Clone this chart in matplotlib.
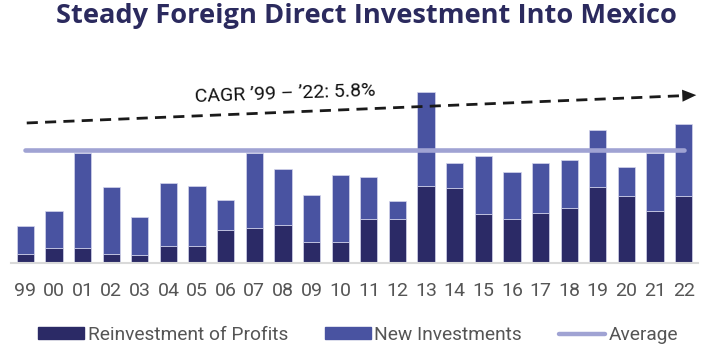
import matplotlib.pyplot as plt
from matplotlib.lines import Line2D
from matplotlib.patches import Patch

years = ['99', '00', '01', '02', '03', '04', '05', '06', '07', '08', '09', '10',
         '11', '12', '13', '14', '15', '16', '17', '18', '19', '20', '21', '22']
# billions USD
reinvestment = [2.5, 4.2, 4.2, 2.5, 2.2, 4.8, 4.8, 9.2, 9.8, 10.6, 5.9, 5.9,
                12.3, 12.3, 21.6, 21.0, 13.7, 12.3, 14.0, 15.4, 21.3, 18.8, 14.6, 18.8]
new_invest = [7.8, 10.4, 26.6, 18.8, 10.6, 17.6, 16.8, 8.4, 21.0, 15.7, 13.2, 18.8,
              11.8, 5.0, 26.3, 7.0, 16.2, 13.2, 14.0, 13.4, 16.0, 8.1, 16.2, 20.2]
average = 31.5
cagr_label = 'CAGR \u201999 \u2013 \u201922: 5.8%'
trend_start = (0.05, 39.2)
trend_end = (23.44, 47.0)

dark = '#2b2a66'
blue = '#4953a1'
lav = '#a0a3d3'
grey_txt = '#555555'
plt.rcParams['font.family'] = ['Roboto', 'DejaVu Sans']

fig = plt.figure(figsize=(7.1, 3.6), dpi=100)
ax = fig.add_axes([11 / 710, 97 / 360, 687 / 710, 178.6 / 360])

x = list(range(len(years)))
ax.bar(x, reinvestment, width=0.6, color=dark, edgecolor='#d4d5ec', linewidth=0.5, zorder=2)
ax.bar(x, new_invest, width=0.6, bottom=reinvestment, color=blue,
       edgecolor='#d4d5ec', linewidth=0.5, zorder=2)

ax.plot([x[0], x[-1]], [average, average], color=lav, lw=3.3,
        solid_capstyle='round', zorder=4)

# trend arrow
slope = (trend_end[1] - trend_start[1]) / (trend_end[0] - trend_start[0])
ax.plot([trend_start[0], trend_end[0] - 0.45],
        [trend_start[1], trend_end[1] - 0.45 * slope],
        color='#1a1a1a', lw=2, dashes=(4, 2.6), zorder=5, clip_on=False)
ax.annotate('', xy=trend_end, xytext=(trend_end[0] - 0.5, trend_end[1] - 0.5 * slope),
            arrowprops=dict(arrowstyle='-|>,head_length=0.72,head_width=0.31',
                            mutation_scale=14, color='#1a1a1a', lw=0,
                            shrinkA=0, shrinkB=0), annotation_clip=False, zorder=6)
ax.text(9.07, 47.3, cagr_label, fontsize=14, color='#111111', ha='center',
        va='center', rotation=2, rotation_mode='anchor')

ax.set_xlim(-0.5, 23.5)
ax.set_ylim(0, 50)
ax.set_xticks(x)
ax.set_xticklabels(years, fontsize=14, color=grey_txt)
ax.tick_params(axis='x', length=0, pad=14)
ax.set_yticks([])
for s in ['top', 'left', 'right']:
    ax.spines[s].set_visible(False)
ax.spines['bottom'].set_color('#d9d9d9')
ax.spines['bottom'].set_linewidth(1.5)

fig.text(366.5 / 710, 1 - 22.7 / 360, 'Steady Foreign Direct Investment Into Mexico',
         fontsize=19.6, fontweight='bold', family='Open Sans', color='#2b2a5e',
         ha='center', va='baseline')

handles = [Patch(color=dark), Patch(color=blue),
           Line2D([], [], color=lav, lw=3.2, solid_capstyle='round')]
fig.legend(handles, ['Reinvestment of Profits', 'New Investments', 'Average'],
           loc='center', bbox_to_anchor=(358 / 710, 1 - 335 / 360), ncol=3,
           frameon=False, fontsize=13.8, labelcolor=grey_txt, handlelength=2.4,
           handleheight=0.58, handletextpad=0.2, columnspacing=1.9,
           borderpad=0, borderaxespad=0)

fig.savefig('out.png', dpi=100)
